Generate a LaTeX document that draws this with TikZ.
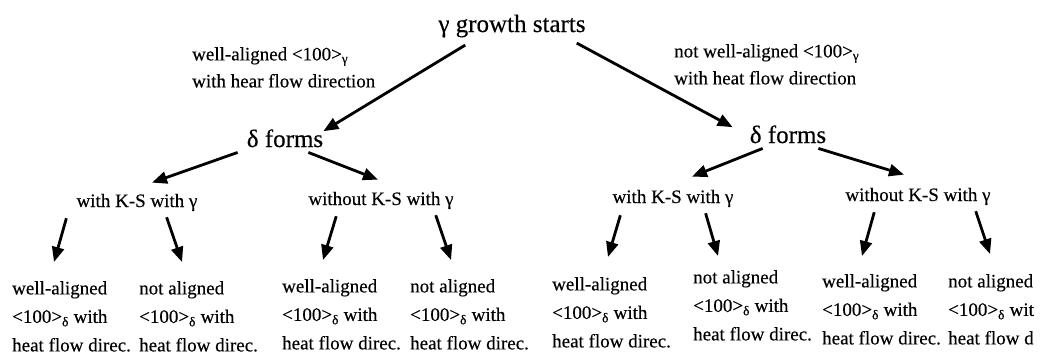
\documentclass[tikz,border=0pt]{standalone}
\usepackage{fontspec}
\setmainfont{Liberation Serif}[FakeBold=0.35]
\usetikzlibrary{arrows.meta}
\begin{document}
\begin{tikzpicture}[x=1pt,y=-1pt,
  big/.style={font=\fontsize{25}{30}\selectfont, inner sep=0pt, anchor=base},
  mid/.style={font=\fontsize{19}{23}\selectfont, inner sep=0pt, anchor=base},
  leaf/.style={font=\fontsize{19}{28.5}\selectfont, inner sep=0pt, align=left, anchor=north west},
  elab/.style={font=\fontsize{19}{27}\selectfont, inner sep=0pt, align=left, anchor=north west},
  arr/.style={line width=2.8pt, -{Triangle[length=15pt,width=12pt]}}]
\useasboundingbox (0,0) rectangle (1042,356);
\clip (0,0) rectangle (1042,356);
% main nodes
\node[big] (top) at (512,32) {γ growth starts};
\node[big] (dL) at (285,147) {δ forms};
\node[big] (dR) at (788,143) {δ forms};
% edge labels
\node[elab] (eL) at (192,47) {well-aligned <100>\textsubscript{γ}\\with hear flow direction};
\node[elab] (eR) at (674,44) {not well-aligned <100>\textsubscript{γ}\\with heat flow direction};
% second level
\node[mid] (kL1) at (137,207) {with K-S with γ};
\node[mid] (kL2) at (381,205) {without K-S with γ};
\node[mid] (kR1) at (673,203) {with K-S with γ};
\node[mid] (kR2) at (918,201) {without K-S with γ};
% leaves
\node[leaf] (l1) at (12,281) {well-aligned\\<100>\textsubscript{δ} with\\heat flow direc.};
\node[leaf] (l2) at (139,281) {not aligned\\<100>\textsubscript{δ} with\\heat flow direc.};
\node[leaf] (l3) at (282,279) {well-aligned\\<100>\textsubscript{δ} with\\heat flow direc.};
\node[leaf] (l4) at (410,279) {not aligned\\<100>\textsubscript{δ} with\\heat flow direc.};
\node[leaf] (l5) at (552,277) {well-aligned\\<100>\textsubscript{δ} with\\heat flow direc.};
\node[leaf] (l6) at (693,270) {not aligned\\<100>\textsubscript{δ} with\\heat flow direc.};
\node[leaf] (l7) at (822,274) {well-aligned\\<100>\textsubscript{δ} with\\heat flow direc.};
\node[leaf] (l8) at (948,274) {not aligned\\<100>\textsubscript{δ} wit\\heat flow d};
% connectors
\draw[arr] ([shift={(27,7.5)}]top.south west) -- ([shift={(0,2)}]dL.north east);
\draw[arr] ([shift={(-9,5.5)}]top.south east) -- ([shift={(-17,2)}]dR.north west);
\draw[arr] ([shift={(-9,5)}]dL.south west) -- ([shift={(15,-11)}]kL1.north);
\draw[arr] ([shift={(-15,5)}]dL.south east) -- ([shift={(-3,-12)}]kL2.north);
\draw[arr] ([shift={(13,5)}]dR.south west) -- ([shift={(19,-13)}]kR1.north);
\draw[arr] ([shift={(-8,5)}]dR.south east) -- ([shift={(-14,-13)}]kR2.north);
\draw[arr] ([shift={(-10,7)}]kL1.south west) -- ([shift={(42,-19)}]l1.north west);
\draw[arr] ([shift={(-31,6)}]kL1.south east) -- ([shift={(43,-19)}]l2.north west);
\draw[arr] ([shift={(28,7)}]kL2.south west) -- ([shift={(41,-19)}]l3.north west);
\draw[arr] ([shift={(-18,6)}]kL2.south east) -- ([shift={(41,-19)}]l4.north west);
\draw[arr] ([shift={(8,8)}]kR1.south west) -- ([shift={(56,-20)}]l5.north west);
\draw[arr] ([shift={(-28,6)}]kR1.south east) -- ([shift={(25,-14)}]l6.north west);
\draw[arr] ([shift={(29,7)}]kR2.south west) -- ([shift={(40,-18)}]l7.north west);
\draw[arr] ([shift={(-15,6)}]kR2.south east) -- ([shift={(42,-20)}]l8.north west);
\end{tikzpicture}
\end{document}
